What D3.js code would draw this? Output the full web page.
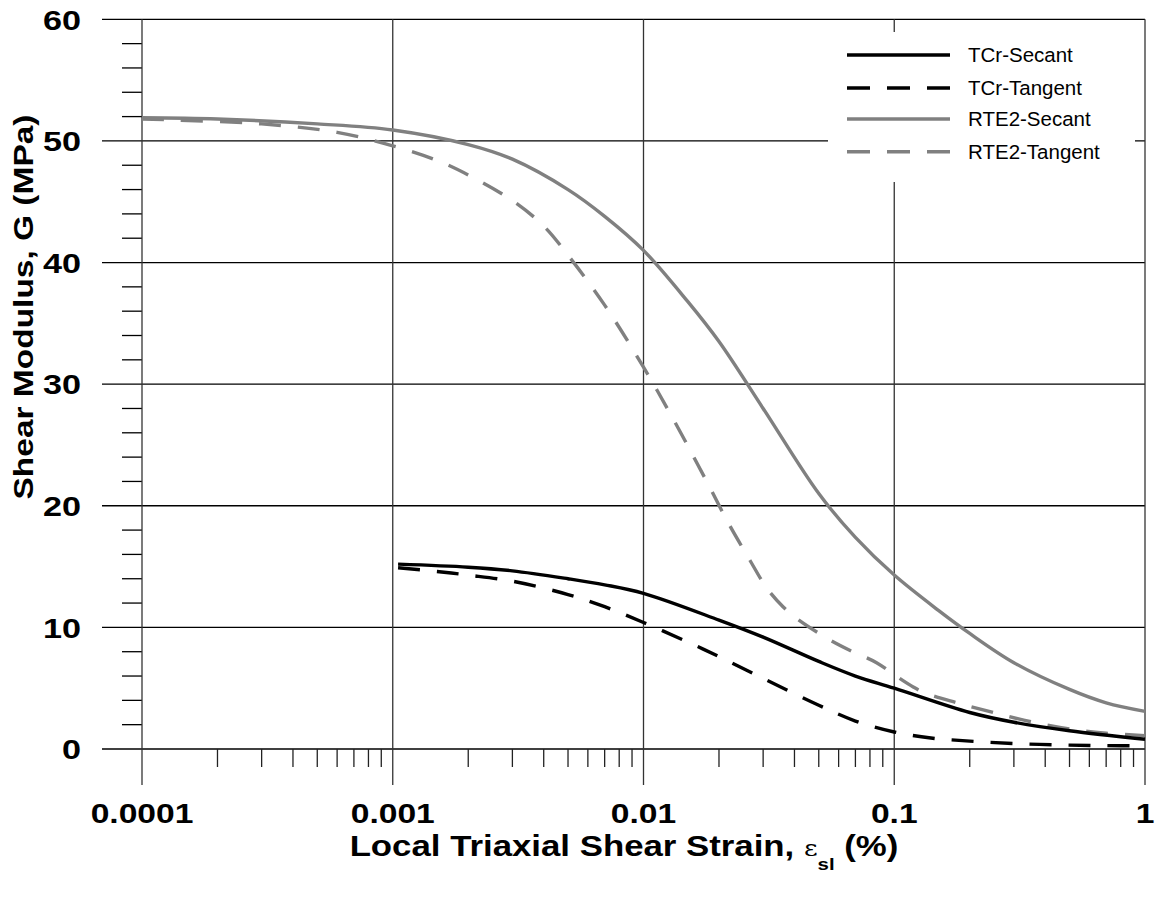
<!DOCTYPE html>
<html><head><meta charset="utf-8">
<script src="https://cdn.jsdelivr.net/npm/d3@7"></script>
<style>body{margin:0;background:#fff}svg{display:block}</style>
</head><body>
<svg id="c" width="1159" height="898"></svg>
<script>
// ---- data ----
const xTicks = [0.0001, 0.001, 0.01, 0.1, 1];
const xTickLabels = ["0.0001", "0.001", "0.01", "0.1", "1"];
const yTicks = [0, 10, 20, 30, 40, 50, 60];
const yTickLabels = ["0", "10", "20", "30", "40", "50", "60"];

const seriesNames = ["TCr-Secant", "TCr-Tangent", "RTE2-Secant", "RTE2-Tangent"];

const tcrSecStrain = [0.00105, 0.002, 0.003, 0.005, 0.007, 0.01, 0.02, 0.03, 0.05, 0.07, 0.1, 0.2, 0.3, 0.5, 1];
const tcrSecG      = [15.2, 14.95, 14.65, 14.0, 13.5, 12.8, 10.6, 9.2, 7.2, 6.0, 5.0, 3.0, 2.2, 1.5, 0.8];

const tcrTanStrain = [0.00105, 0.0015, 0.002, 0.003, 0.005, 0.007, 0.01, 0.015, 0.02, 0.03, 0.05, 0.07, 0.1, 0.14, 0.2, 0.3, 0.5, 0.7, 1];
const tcrTanG      = [14.9, 14.6, 14.3, 13.8, 12.7, 11.7, 10.4, 8.8, 7.6, 5.8, 3.6, 2.3, 1.4, 0.9, 0.65, 0.45, 0.32, 0.28, 0.25];

const rteSecStrain = [0.0001, 0.0002, 0.0005, 0.001, 0.002, 0.003, 0.005, 0.007, 0.01, 0.015, 0.02, 0.03, 0.05, 0.07, 0.1, 0.15, 0.2, 0.3, 0.5, 0.7, 1];
const rteSecG      = [51.9, 51.8, 51.4, 50.9, 49.7, 48.5, 46.0, 43.8, 41.0, 36.8, 33.5, 28.0, 21.0, 17.4, 14.3, 11.4, 9.5, 7.1, 4.9, 3.8, 3.1];

const rteTanStrain = [0.0001, 0.0003, 0.0006, 0.001, 0.0015, 0.002, 0.003, 0.004, 0.005, 0.007, 0.01, 0.013, 0.0184, 0.0215, 0.0266, 0.0311, 0.036, 0.041, 0.054, 0.0667, 0.085, 0.1, 0.119, 0.133, 0.178, 0.248, 0.358, 0.518, 0.7, 1];
const rteTanG      = [51.8, 51.4, 50.7, 49.6, 48.4, 47.2, 45.1, 43.0, 40.6, 36.5, 31.4, 27.3, 21.5, 18.8, 15.5, 13.2, 11.7, 10.7, 9.1, 8.1, 7.1, 6.1, 5.1, 4.6, 3.8, 3.0, 2.2, 1.6, 1.3, 1.1];

// ---- chart ----
const svg = d3.select("#c");
const L = 142, R = 1145, T = 19.3, B = 749;
const x = d3.scaleLog().domain([0.0001, 1]).range([L, R]);
const y = d3.scaleLinear().domain([0, 60]).range([B, T]);

const FONT = "'Liberation Sans', Arial, Helvetica, sans-serif";

// horizontal grid/major lines
svg.append("g").selectAll("line").data(yTicks).join("line")
  .attr("x1", L - 40).attr("x2", R)
  .attr("y1", d => y(d)).attr("y2", d => y(d))
  .attr("stroke", "#000").attr("stroke-width", 1.3);

// y minor ticks
const yMinor = d3.range(0, 60, 2).filter(v => v % 10 !== 0);
svg.append("g").selectAll("line").data(yMinor).join("line")
  .attr("x1", L - 20).attr("x2", L)
  .attr("y1", d => y(d)).attr("y2", d => y(d))
  .attr("stroke", "#000").attr("stroke-width", 1.3);

// vertical major lines
svg.append("g").selectAll("line").data(xTicks).join("line")
  .attr("x1", d => x(d)).attr("x2", d => x(d))
  .attr("y1", T).attr("y2", B + 36)
  .attr("stroke", "#333").attr("stroke-width", 1.3);

// x minor ticks
const xMinor = [];
[0.0001, 0.001, 0.01, 0.1].forEach(dec => { for (let k = 2; k <= 9; k++) xMinor.push(dec * k); });
svg.append("g").selectAll("line").data(xMinor).join("line")
  .attr("x1", d => x(d)).attr("x2", d => x(d))
  .attr("y1", B).attr("y2", B + 18)
  .attr("stroke", "#222").attr("stroke-width", 1.3);

// legend background (hides grid)
svg.append("rect").attr("x", 828).attr("y", 32).attr("width", 307).attr("height", 150).attr("fill", "#fff");

// curves
const series = [
  { name: seriesNames[0], xs: tcrSecStrain, ys: tcrSecG, color: "#000", dash: null },
  { name: seriesNames[1], xs: tcrTanStrain, ys: tcrTanG, color: "#000", dash: "22,17" },
  { name: seriesNames[2], xs: rteSecStrain, ys: rteSecG, color: "#808080", dash: null },
  { name: seriesNames[3], xs: rteTanStrain, ys: rteTanG, color: "#808080", dash: "22,17" }
];
const line = d3.line().x(d => x(d[0])).y(d => y(d[1])).curve(d3.curveCatmullRom.alpha(0.5));
const drawOrder = [2, 3, 0, 1];
drawOrder.forEach(i => {
  const s = series[i];
  svg.append("path")
    .attr("d", line(s.xs.map((v, j) => [v, s.ys[j]])))
    .attr("fill", "none").attr("stroke", s.color).attr("stroke-width", 3.4)
    .attr("stroke-dasharray", s.dash).attr("stroke-linecap", "butt");
});

// legend
const legY = [55, 88, 119, 151.7];
series.forEach((s, i) => {
  svg.append("line").attr("x1", 847).attr("x2", 950).attr("y1", legY[i]).attr("y2", legY[i])
    .attr("stroke", s.color).attr("stroke-width", 3.4).attr("stroke-dasharray", s.dash ? "23,17" : null);
  svg.append("text").attr("x", 968).attr("y", legY[i] + 7)
    .attr("font-family", FONT).attr("font-size", 20.5).attr("fill", "#000").text(s.name);
});

// y tick labels
yTicks.forEach((v, i) => {
  svg.append("g").attr("transform", `translate(81,${y(v) + 10.3}) scale(1.2,1)`)
    .append("text").attr("text-anchor", "end")
    .attr("font-family", FONT).attr("font-weight", "bold").attr("font-size", 28.5).text(yTickLabels[i]);
});

// x tick labels
xTicks.forEach((v, i) => {
  svg.append("g").attr("transform", `translate(${x(v)},823) scale(1.2,1)`)
    .append("text").attr("text-anchor", "middle")
    .attr("font-family", FONT).attr("font-weight", "bold").attr("font-size", 28).text(xTickLabels[i]);
});

// x title
const xt = svg.append("g").attr("transform", "translate(624,856) scale(1.2,1)")
  .append("text").attr("x", 0).attr("y", 0).attr("text-anchor", "middle")
  .attr("font-family", FONT).attr("font-weight", "bold").attr("font-size", 29);
xt.append("tspan").text("Local Triaxial Shear Strain, ");
xt.append("tspan").attr("font-family", "'DejaVu Serif', serif").attr("font-weight", "normal").attr("font-size", 22).text("ε");
xt.append("tspan").attr("font-size", 17).attr("dy", 14).text("sl");
xt.append("tspan").attr("dy", -14).text(" (%)");

// y title
svg.append("g").attr("transform", `translate(33,307) rotate(-90) scale(1.24,1)`)
  .append("text").attr("text-anchor", "middle")
  .attr("font-family", FONT).attr("font-weight", "bold").attr("font-size", 27)
  .text("Shear Modulus, G (MPa)");
</script>
</body></html>
